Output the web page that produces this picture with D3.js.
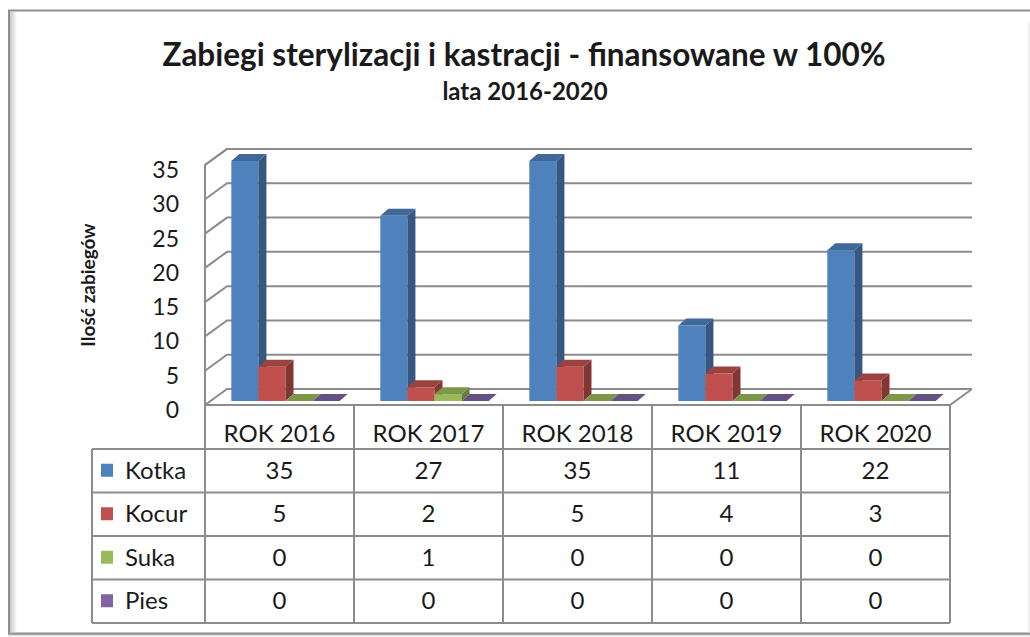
<!DOCTYPE html>
<html lang="pl">
<head>
<meta charset="UTF-8" />
<title>Zabiegi sterylizacji i kastracji</title>
<style>
  html, body { margin: 0; background: #fff; }
  svg text { font-family: Lato, "Open Sans", sans-serif; fill: #1a1a1a; }
</style>
</head>
<body>
<svg id="chart" width="1030" height="637"></svg>
<script src="https://cdn.jsdelivr.net/npm/d3@7"></script>
<script>
const categories = ["ROK 2016", "ROK 2017", "ROK 2018", "ROK 2019", "ROK 2020"];
const seriesNames = ["Kotka", "Kocur", "Suka", "Pies"];
const kotka = [35, 27, 35, 11, 22];
const kocur = [5, 2, 5, 4, 3];
const suka = [0, 1, 0, 0, 0];
const pies = [0, 0, 0, 0, 0];
const yTicks = [0, 5, 10, 15, 20, 25, 30, 35];
const colors = ["#4f81bd", "#c0504d", "#9bbb59", "#8064a2"];

const values = [kotka, kocur, suka, pies];
const svg = d3.select("#chart");
const grey = "#8c8c8c";

// frame with a soft shadow
const defs = svg.append("defs");
const lg = defs.append("linearGradient").attr("id", "shL");
lg.append("stop").attr("offset", 0).attr("stop-color", "#c8c8c8");
lg.append("stop").attr("offset", 1).attr("stop-color", "#fff");
const bg = defs.append("linearGradient").attr("id", "shB").attr("x1", 0).attr("x2", 0).attr("y1", 0).attr("y2", 1);
bg.append("stop").attr("offset", 0).attr("stop-color", "#bdbdbd");
bg.append("stop").attr("offset", 1).attr("stop-color", "#fff");
svg.append("rect").attr("x", 10).attr("y", 12).attr("width", 7).attr("height", 620).attr("fill", "url(#shL)");
svg.append("rect").attr("x", 8).attr("y", 634).attr("width", 1022).attr("height", 3).attr("fill", "url(#shB)");
svg.append("path").attr("d", "M1030,10.5H9V633.5H1030").attr("fill", "none").attr("stroke", "#8f8f8f").attr("stroke-width", 2);
svg.append("line").attr("x1", 1029).attr("x2", 1029).attr("y1", 22).attr("y2", 633).attr("stroke", "#e2e2e2");

// scales
const x = d3.scaleBand().domain(categories).range([205, 950]);
const inner = d3.scaleBand().domain(seriesNames).range([0, x.bandwidth()]).paddingInner(0).paddingOuter(0.75);
const y = d3.scaleLinear().domain([0, 35]).range([405, 165]);
const wallDx = 22, wallDy = -16;
const barOx = 6, barOy = -4, barDx = 8, barDy = -7;
const x0 = x.range()[0], x1 = x.range()[1];

// walls and gridlines
const walls = svg.append("g").attr("fill", "none").attr("stroke", grey).attr("stroke-width", 2);
walls.append("path").attr("d", `M${x0},${y(0)}V${y(35)}L${x0 + wallDx},${y(35) + wallDy}H${x1 + wallDx}`);
walls.selectAll(".grid").data(yTicks).join("path")
  .attr("class", "grid")
  .attr("d", v => `M${x0},${y(v)}L${x0 + wallDx},${y(v) + wallDy}H${x1 + wallDx}`);
walls.append("path").attr("d", `M${x0},${y(0)}H${x1}L${x1 + wallDx},${y(0) + wallDy}`);

// y tick labels
svg.append("g").selectAll("text").data(yTicks).join("text")
  .attr("x", 179).attr("y", v => y(v) + 4)
  .attr("text-anchor", "end").attr("dominant-baseline", "central")
  .attr("font-size", 23).text(v => v);

svg.append("text")
  .attr("transform", "translate(95,285) rotate(-90)")
  .attr("text-anchor", "middle").attr("font-size", 19).attr("font-weight", "bold")
  .text("Ilość zabiegów");

// bars
const bars = [];
categories.forEach((c, ci) => {
  seriesNames.forEach((s, si) => bars.push({ c, s, si, v: values[si][ci] }));
});
const bw = inner.bandwidth();
const barG = svg.append("g").selectAll("g").data(bars).join("g");
barG.each(function (d) {
  const g = d3.select(this);
  const xa = x(d.c) + inner(d.s) + barOx, xb = xa + bw;
  const yb = y(0) + barOy, yt = y(d.v) + barOy;
  const base = d3.color(colors[d.si]);
  g.append("rect").attr("x", xa).attr("y", yt).attr("width", bw).attr("height", yb - yt).attr("fill", base);
  g.append("path")
    .attr("d", `M${xb},${yt}L${xb + barDx},${yt + barDy}V${yb + barDy}L${xb},${yb}Z`)
    .attr("fill", base.darker(1.1));
  g.append("path")
    .attr("d", `M${xa},${yt}L${xa + barDx},${yt + barDy}H${xb + barDx}L${xb},${yt}Z`)
    .attr("fill", base.darker(0.6));
});

// data table
const tableTop = 449, rowH = 43.5, legendX = 92;
const tbl = svg.append("g");
const tl = tbl.append("g").attr("stroke", grey).attr("stroke-width", 2).attr("fill", "none");
const colEdges = categories.map(c => x(c)).concat([x1]);
tl.selectAll(".hv").data(colEdges).join("line").attr("class", "hv")
  .attr("x1", d => d).attr("x2", d => d).attr("y1", y(0)).attr("y2", tableTop);
tl.selectAll(".bv").data([legendX].concat(colEdges)).join("line").attr("class", "bv")
  .attr("x1", d => d).attr("x2", d => d).attr("y1", tableTop).attr("y2", tableTop + rowH * seriesNames.length);
tl.selectAll(".bh").data(d3.range(seriesNames.length + 1)).join("line").attr("class", "bh")
  .attr("x1", legendX).attr("x2", x1)
  .attr("y1", i => tableTop + i * rowH).attr("y2", i => tableTop + i * rowH);

tbl.selectAll(".head").data(categories).join("text").attr("class", "head")
  .attr("x", c => x(c) + x.bandwidth() / 2).attr("y", 442)
  .attr("text-anchor", "middle").attr("font-size", 24).text(c => c);

seriesNames.forEach((s, si) => {
  const cy = tableTop + rowH * si + rowH / 2;
  tbl.append("rect").attr("x", 101).attr("y", cy - 7).attr("width", 12).attr("height", 13).attr("fill", colors[si]);
  tbl.append("text").attr("x", 125).attr("y", cy + 8).attr("font-size", 24).text(s);
  tbl.append("g").selectAll("text").data(values[si]).join("text")
    .attr("x", (v, i) => x(categories[i]) + x.bandwidth() / 2).attr("y", cy + 8)
    .attr("text-anchor", "middle").attr("font-size", 24).text(v => v);
});

// titles
svg.append("text").attr("x", 524).attr("y", 66).attr("text-anchor", "middle")
  .attr("font-size", 31.5).attr("font-weight", "bold")
  .text("Zabiegi sterylizacji i kastracji - finansowane w 100%");
svg.append("text").attr("x", 525).attr("y", 100).attr("text-anchor", "middle")
  .attr("font-size", 24).attr("font-weight", "bold")
  .text("lata 2016-2020");
</script>
</body>
</html>
